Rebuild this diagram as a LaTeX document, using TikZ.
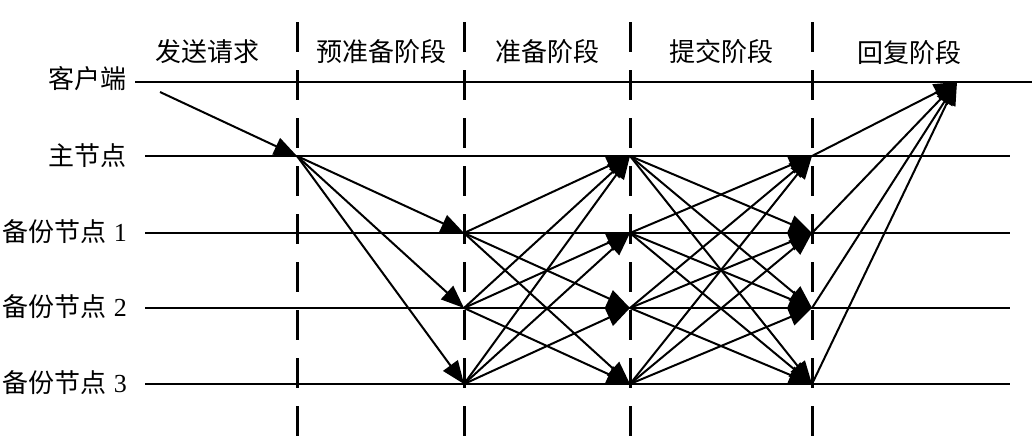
\documentclass[tikz,border=0pt]{standalone}
\usepackage{fontspec}
\setmainfont{Liberation Serif}
\newfontfamily\cjk{Noto Sans CJK SC}
\usetikzlibrary{arrows.meta}
\begin{document}
\begin{tikzpicture}[x=1pt,y=-1pt,
  lane/.style={line width=2.4pt},
  phase/.style={line width=3pt, dash pattern=on 30pt off 18pt},
  msg/.style={line width=2pt, -{Triangle[length=23pt,width=18pt]}},
  lbl/.style={font=\fontsize{26}{26}\selectfont, inner sep=0pt}
]
\useasboundingbox (0,0) rectangle (1032,440);
% column x positions
\def\xa{297}\def\xb{464}\def\xc{630}\def\xd{812}
% dashed phase separators
\foreach \x/\n in {\xa/a,\xb/b,\xc/c,\xd/d}{
  \coordinate (top-\n) at (\x,22);
  \coordinate (bot-\n) at (\x,440);
  \draw[phase] (top-\n) -- (bot-\n);
}
% lanes
\coordinate (cL) at (135,82); \coordinate (cR) at (1032,82);
\draw[lane] (cL) -- (cR);
\foreach \r/\y in {p/156,b1/233,b2/308,b3/384}{
  \coordinate (\r L) at (145,\y); \coordinate (\r R) at (1010,\y);
  \draw[lane] (\r L) -- (\r R);
  \coordinate (\r-1) at (\xa,\y);
  \coordinate (\r-2) at (\xb,\y);
  \coordinate (\r-3) at (\xc,\y);
  \coordinate (\r-4) at (\xd,\y);
}
% row labels
\node[lbl,anchor=east] (lc) at (127,79) {\cjk 客户端};
\node[lbl,anchor=east] (lp) at (127,156) {\cjk 主节点};
\node[lbl,anchor=east] (lb1) at (127,232) {{\cjk 备份节点}\hspace{7pt}1};
\node[lbl,anchor=east] (lb2) at (127,307) {{\cjk 备份节点}\hspace{7pt}2};
\node[lbl,anchor=east] (lb3) at (127,383) {{\cjk 备份节点}\hspace{7pt}3};
% phase labels
\node[lbl] (h1) at (207,52) {\cjk 发送请求};
\node[lbl] (h2) at (381,52) {\cjk 预准备阶段};
\node[lbl] (h3) at (547,52) {\cjk 准备阶段};
\node[lbl] (h4) at (721,52) {\cjk 提交阶段};
\node[lbl] (h5) at (909,53) {\cjk 回复阶段};
% request
\coordinate (cs) at (160,92);
\draw[msg] (cs) -- (p-1);
% pre-prepare
\foreach \t in {b1,b2,b3}{\draw[msg] (p-1) -- (\t-2);}
% prepare
\foreach \s/\t in {b1/p,b1/b2,b1/b3,b2/p,b2/b1,b2/b3,b3/p,b3/b1,b3/b2}{
  \draw[msg] (\s-2) -- (\t-3);}
% commit
\foreach \s/\t in {p/b1,p/b2,p/b3,b1/p,b1/b2,b1/b3,b2/p,b2/b1,b2/b3,b3/p,b3/b1,b3/b2}{
  \draw[msg] (\s-3) -- (\t-4);}
% reply
\coordinate (ct) at (957,82);
\foreach \s in {p,b1,b2,b3}{\draw[msg] (\s-4) -- (ct);}
\end{tikzpicture}
\end{document}
